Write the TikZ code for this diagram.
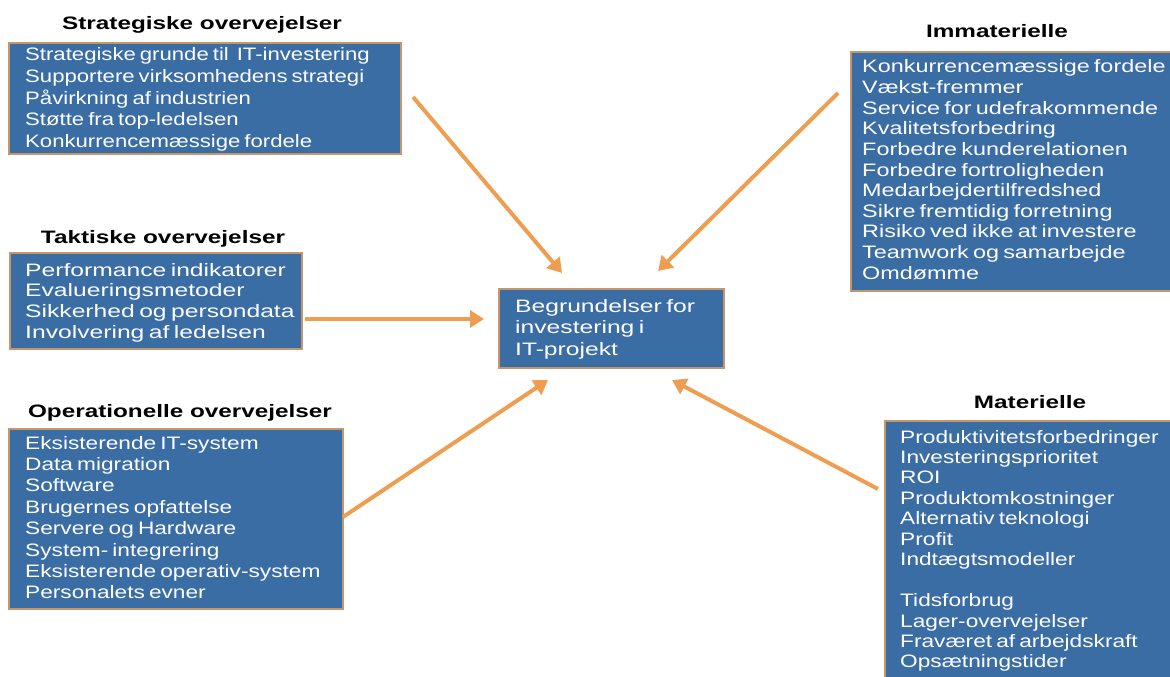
\documentclass[tikz,border=0pt]{standalone}
\usepackage{fontspec}
\setmainfont{Liberation Sans}
% the same face at several horizontal stretches, with tight word spaces
\newfontfamily\faceA[FakeStretch=1.23,WordSpace=0.65]{Liberation Sans}
\newfontfamily\faceB[FakeStretch=1.26,WordSpace=0.65]{Liberation Sans}
\newfontfamily\faceC[FakeStretch=1.30,WordSpace=0.65]{Liberation Sans}
\newfontfamily\faceD[FakeStretch=1.37,WordSpace=0.65]{Liberation Sans}
\newfontfamily\headface[FakeStretch=1.35]{Liberation Sans}
\usetikzlibrary{arrows.meta}
\definecolor{boxblue}{RGB}{59,109,165}
\definecolor{boxedge}{RGB}{196,150,105}
\definecolor{feedorange}{RGB}{238,158,80}

% one white text line per item, baselines spaced evenly
% #1 name prefix, #2 face, #3 x, #4 first baseline, #5 spacing, #6 items
\newcommand{\itemlines}[6]{%
  \foreach \t [count=\i from 0] in {#6}
    \node[itemtext, font=#2\fontsize{18}{21}\selectfont] (#1-\i) at ({#3},{#4+\i*#5}) {\t};%
}

\begin{document}
\begin{tikzpicture}[x=1pt,y=-1pt,
  panel/.style={draw=boxedge, line width=1.6pt, fill=boxblue, anchor=north west,
    inner sep=0pt},
  itemtext/.style={anchor=base west, inner sep=0pt, text=white},
  heading/.style={anchor=base, inner sep=0pt,
    font=\headface\bfseries\fontsize{18}{21}\selectfont},
  feed/.style={draw=feedorange, line width=4pt,
    -{Triangle[width=17pt,length=14pt]}}]

\useasboundingbox (0,0) rectangle (1170,677);
\clip (0,0) rectangle (1170,677);

% panels
\node[panel, minimum width=392pt, minimum height=111pt] (strat) at (8,42) {};
\node[panel, minimum width=292pt, minimum height=96pt]  (takt)  at (9,252) {};
\node[panel, minimum width=334pt, minimum height=180pt] (oper)  at (8,428) {};
\node[panel, minimum width=225pt, minimum height=79pt]  (goal)  at (498,288) {};
\node[panel, minimum width=325pt, minimum height=239pt] (immat) at (850,51) {};
\node[panel, minimum width=291pt, minimum height=265pt] (mat)   at (884,420) {};

% headings
\node[heading] (strat-h) at (202,30)  {Strategiske overvejelser};
\node[heading] (takt-h)  at (163,243) {Taktiske overvejelser};
\node[heading] (oper-h)  at (180,417) {Operationelle overvejelser};
\node[heading] (immat-h) at (997,38)  {Immaterielle};
\node[heading] (mat-h)   at (1030,408) {Materielle};

% panel contents
\itemlines{s}{\faceA}{25}{61}{21.5}{Strategiske grunde til\ \ IT-investering,
  Supportere virksomhedens strategi, Påvirkning af industrien,
  Støtte fra top-ledelsen, Konkurrencemæssige fordele}
\itemlines{t}{\faceD}{25}{276}{20.8}{Performance indikatorer, Evalueringsmetoder,
  Sikkerhed og persondata, Involvering af ledelsen}
\itemlines{o}{\faceB}{25}{449}{21.4}{Eksisterende IT-system, Data migration, Software,
  Brugernes opfattelse, Servere og Hardware, System- integrering,
  Eksisterende operativ-system, Personalets evner}
\itemlines{g}{\faceD}{515}{312}{21.5}{Begrundelser for, investering i, IT-projekt}
\itemlines{i}{\faceC}{862}{73}{20.6}{Konkurrencemæssige fordele, Vækst-fremmer,
  Service for udefrakommende, Kvalitetsforbedring, Forbedre kunderelationen,
  Forbedre fortroligheden, Medarbejdertilfredshed, Sikre fremtidig forretning,
  Risiko ved ikke at investere, Teamwork og samarbejde, Omdømme}
\itemlines{m}{\faceB}{900}{443}{20.45}{Produktivitetsforbedringer, Investeringsprioritet,
  ROI, Produktomkostninger, Alternativ teknologi, Profit, Indtægtsmodeller, {},
  Tidsforbrug, Lager-overvejelser, Fraværet af arbejdskraft, Opsætningstider}

% arrow ends
\coordinate (strat-out) at (413,97);
\coordinate (goal-in1)  at (562,273);
\coordinate (immat-out) at (838,93);
\coordinate (goal-in2)  at (658,271);
\coordinate (takt-out)  at (305,319);
\coordinate (goal-in3)  at (484,319);
\coordinate (oper-out)  at (343,517);
\coordinate (goal-in4)  at (548,380);
\coordinate (mat-out)   at (878,489);
\coordinate (goal-in5)  at (672,380);

\draw[feed] (strat-out) -- (goal-in1);
\draw[feed] (immat-out) -- (goal-in2);
\draw[feed] (takt-out)  -- (goal-in3);
\draw[feed] (oper-out)  -- (goal-in4);
\draw[feed] (mat-out)   -- (goal-in5);

\end{tikzpicture}
\end{document}
